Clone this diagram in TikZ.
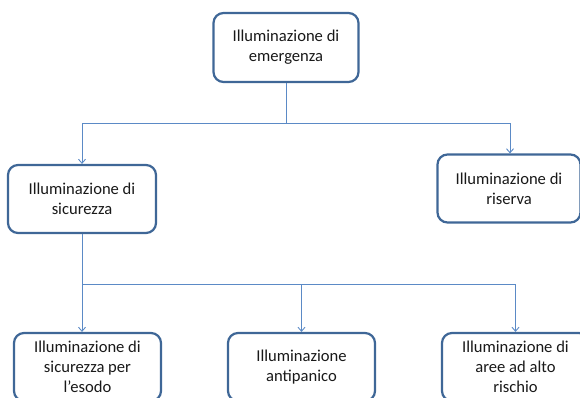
\documentclass[tikz,border=0pt]{standalone}
\usepackage{fontspec}
\setmainfont{Carlito}
\usetikzlibrary{arrows.meta}
\definecolor{boxborder}{HTML}{3F6797}
\definecolor{linecol}{HTML}{5B8AC6}
\tikzset{
  box/.style={draw=boxborder, line width=2.2pt, rounded corners=10pt, fill=white,
    minimum width=146pt, minimum height=68pt, align=center, inner sep=2pt,
    font=\fontsize{16.6pt}{20pt}\selectfont, text=black!90},
  conn/.style={draw=linecol, line width=0.9pt},
  arr/.style={conn, -{Straight Barb[length=4pt,width=7pt]}}
}
\begin{document}
\begin{tikzpicture}[x=1pt,y=-1pt]
\useasboundingbox (0,0) rectangle (580,397);
\clip (0,0) rectangle (580,397);
\node[box, minimum width=145pt, minimum height=69pt] (top) at (286,47.5) {Illuminazione di\\emergenza};
\node[box, minimum width=148pt] (sic) at (82,199) {Illuminazione di\\sicurezza};
\node[box, minimum width=143pt] (ris) at (509,188.5) {Illuminazione di\\riserva};
\node[box, minimum width=147pt] (b1) at (87.5,367) {Illuminazione di\\sicurezza per\\l’esodo};
\node[box, minimum width=147pt] (b2) at (301.5,367) {Illuminazione\\antipanico};
\node[box, minimum width=147pt] (b3) at (515.5,367) {Illuminazione di\\aree ad alto\\rischio};
\coordinate (j1) at (286,123);
\coordinate (j1l) at (82,123);
\coordinate (j1r) at (510,123);
\coordinate (j2) at (82,284);
\draw[conn] (top.south) -- (j1);
\draw[arr] (j1) -- (j1l) -- (sic.north);
\draw[arr] (j1) -- (j1r) -- (j1r |- ris.north);
\draw[conn] (sic.south) -- (j2);
\draw[arr] (j2) -- (j2 |- b1.north);
\draw[arr] (j2) -| (b2.north);
\draw[arr] (j2) -| (b3.north);
\end{tikzpicture}
\end{document}
